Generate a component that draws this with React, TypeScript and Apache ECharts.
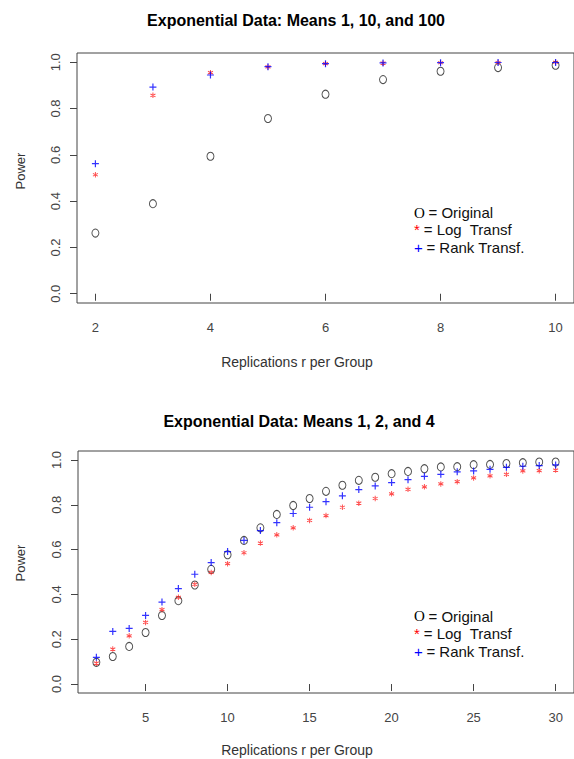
import React, { useEffect, useRef } from "react";
import * as echarts from "echarts";

// ---- Data: top panel (Means 1, 10, 100) ----
const topTitle = "Exponential Data: Means 1, 10, and 100";
const topReplications = [2, 3, 4, 5, 6, 7, 8, 9, 10];
const topOriginal = [0.262, 0.389, 0.594, 0.757, 0.862, 0.925, 0.961, 0.977, 0.987];
const topLog = [0.514, 0.857, 0.955, 0.98, 0.994, 0.996, 0.998, 0.999, 1.0];
const topRank = [0.562, 0.893, 0.945, 0.981, 0.994, 0.997, 0.998, 0.999, 0.999];
const topXTicks = [2, 4, 6, 8, 10];

// ---- Data: bottom panel (Means 1, 2, 4) ----
const bottomTitle = "Exponential Data: Means 1, 2, and 4";
const bottomReplications = [
  2, 3, 4, 5, 6, 7, 8, 9, 10, 11, 12, 13, 14, 15, 16, 17, 18, 19, 20, 21, 22, 23, 24, 25, 26, 27, 28, 29, 30,
];
const bottomOriginal = [
  0.097, 0.123, 0.168, 0.23, 0.306, 0.372, 0.442, 0.512, 0.577, 0.641, 0.697, 0.757, 0.797, 0.828, 0.86,
  0.887, 0.909, 0.923, 0.939, 0.949, 0.961, 0.969, 0.97, 0.979, 0.98, 0.984, 0.988, 0.991, 0.991,
];
const bottomLog = [
  0.093, 0.156, 0.215, 0.275, 0.332, 0.387, 0.445, 0.498, 0.537, 0.586, 0.629, 0.666, 0.697, 0.73, 0.752,
  0.789, 0.807, 0.828, 0.849, 0.869, 0.88, 0.893, 0.903, 0.92, 0.929, 0.936, 0.951, 0.952, 0.955,
];
const bottomRank = [
  0.119, 0.235, 0.248, 0.306, 0.366, 0.426, 0.49, 0.542, 0.591, 0.641, 0.685, 0.72, 0.761, 0.789, 0.814,
  0.84, 0.868, 0.884, 0.899, 0.912, 0.927, 0.936, 0.947, 0.951, 0.958, 0.967, 0.972, 0.975, 0.978,
];
const bottomXTicks = [5, 10, 15, 20, 25, 30];

const yTicks = [0, 0.2, 0.4, 0.6, 0.8, 1.0];
const xAxisTitle = "Replications r per Group";
const yAxisTitle = "Power";
const legendRows = [
  { mark: "O", text: "= Original" },
  { mark: "*", text: "= Log  Transf" },
  { mark: "+", text: "= Rank Transf." },
];

const SANS = "'Liberation Sans', Arial, Helvetica, sans-serif";
const SERIF = "'Liberation Serif', 'Times New Roman', serif";
const PLUS_PATH = "path://M0,5L10,5M5,0L5,10";
const STAR_PATH = "path://M5,0L5,10M0.67,2.5L9.33,7.5M0.67,7.5L9.33,2.5";

const pairs = (xs: number[], ys: number[]) => xs.map((x, i) => [x, ys[i]]);

function xAxisCfg(gridIndex: number, min: number, max: number, ticks: number[]) {
  return {
    type: "value",
    gridIndex,
    min,
    max,
    axisLine: { show: false },
    splitLine: { show: false },
    axisTick: { show: true, length: 7, customValues: ticks, lineStyle: { color: "#444", width: 1 } },
    axisLabel: {
      customValues: ticks,
      margin: 18,
      color: "#444",
      fontFamily: SANS,
      fontSize: 13,
    },
  };
}

function yAxisCfg(gridIndex: number) {
  return {
    type: "value",
    gridIndex,
    min: -0.04,
    max: 1.04,
    axisLine: { show: false },
    splitLine: { show: false },
    axisTick: { show: true, length: 7, customValues: yTicks, lineStyle: { color: "#444", width: 1 } },
    axisLabel: {
      customValues: yTicks,
      rotate: 90,
      margin: 15,
      color: "#444",
      fontFamily: SANS,
      fontSize: 13,
      formatter: (v: number) => v.toFixed(1),
    },
  };
}

function seriesFor(idx: number, xs: number[], orig: number[], log: number[], rank: number[]) {
  const base = { type: "scatter", xAxisIndex: idx, yAxisIndex: idx, silent: true, emphasis: { disabled: true } };
  return [
    {
      ...base,
      name: "Original",
      data: pairs(xs, orig),
      symbol: "circle",
      symbolSize: [7, 8],
      itemStyle: { color: "rgba(0,0,0,0)", borderColor: "#222", borderWidth: 1 },
    },
    {
      ...base,
      name: "Log Transf",
      data: pairs(xs, log),
      symbol: STAR_PATH,
      symbolSize: [5, 5.5],
      itemStyle: { color: "red", borderColor: "#ff2020", borderWidth: 1 },
    },
    {
      ...base,
      name: "Rank Transf.",
      data: pairs(xs, rank),
      symbol: PLUS_PATH,
      symbolSize: [7, 7],
      itemStyle: { color: "blue", borderColor: "blue", borderWidth: 1.2 },
    },
  ];
}

function txt(
  text: string,
  x: number,
  y: number,
  font: string,
  fill: string,
  align: string = "center",
  rotation: number = 0
) {
  return {
    type: "text",
    x,
    y,
    rotation,
    silent: true,
    style: {
      text,
      font,
      fill,
      align,
      verticalAlign: "middle",
      textAlign: align,
      textVerticalAlign: "middle",
    },
  };
}

function legendGraphics(x0: number, ys: number[]) {
  const out: any[] = [];
  const marks = [
    { font: `15px ${SERIF}`, fill: "#000", dx: 14.5 },
    { font: `15px ${SANS}`, fill: "red", dx: 9.7 },
    { font: `15px ${SANS}`, fill: "blue", dx: 12.4 },
  ];
  legendRows.forEach((row, i) => {
    const m = marks[i];
    out.push(txt(row.mark, x0, ys[i], m.font, m.fill, "left"));
    out.push(txt(row.text, x0 + m.dx, ys[i], `15px ${SANS}`, "#111", "left"));
  });
  return out;
}

export default function App() {
  const ref = useRef<HTMLDivElement>(null);

  useEffect(() => {
    if (!ref.current) return;
    const chart = echarts.init(ref.current, undefined, { renderer: "svg" });
    const option: any = {
      animation: false,
      backgroundColor: "#fff",
      grid: [
        { left: 77, top: 53, width: 500, height: 250, show: true, borderColor: "#444", borderWidth: 1, containLabel: false },
        { left: 78, top: 451, width: 498, height: 242, show: true, borderColor: "#444", borderWidth: 1, containLabel: false },
      ],
      xAxis: [xAxisCfg(0, 1.68, 10.32, topXTicks), xAxisCfg(1, 0.88, 31.12, bottomXTicks)],
      yAxis: [yAxisCfg(0), yAxisCfg(1)],
      series: [
        ...seriesFor(0, topReplications, topOriginal, topLog, topRank),
        ...seriesFor(1, bottomReplications, bottomOriginal, bottomLog, bottomRank),
      ],
      graphic: [
        txt(topTitle, 296, 20, `bold 16px ${SANS}`, "#000"),
        txt(bottomTitle, 299, 421, `bold 16px ${SANS}`, "#000"),
        txt(xAxisTitle, 297, 362, `14px ${SANS}`, "#333"),
        txt(xAxisTitle, 297, 750, `14px ${SANS}`, "#333"),
        txt(yAxisTitle, 20.5, 171, `13px ${SANS}`, "#333", "center", Math.PI / 2),
        txt(yAxisTitle, 20.5, 563, `13px ${SANS}`, "#333", "center", Math.PI / 2),
        ...legendGraphics(414, [212.7, 229.3, 247]),
        ...legendGraphics(414, [616, 633.3, 651]),
      ],
    };
    chart.setOption(option);
    return () => chart.dispose();
  }, []);

  return (
    <div
      ref={ref}
      style={{ position: "absolute", left: 0, top: 0, width: 574, height: 759, background: "#fff" }}
    />
  );
}
